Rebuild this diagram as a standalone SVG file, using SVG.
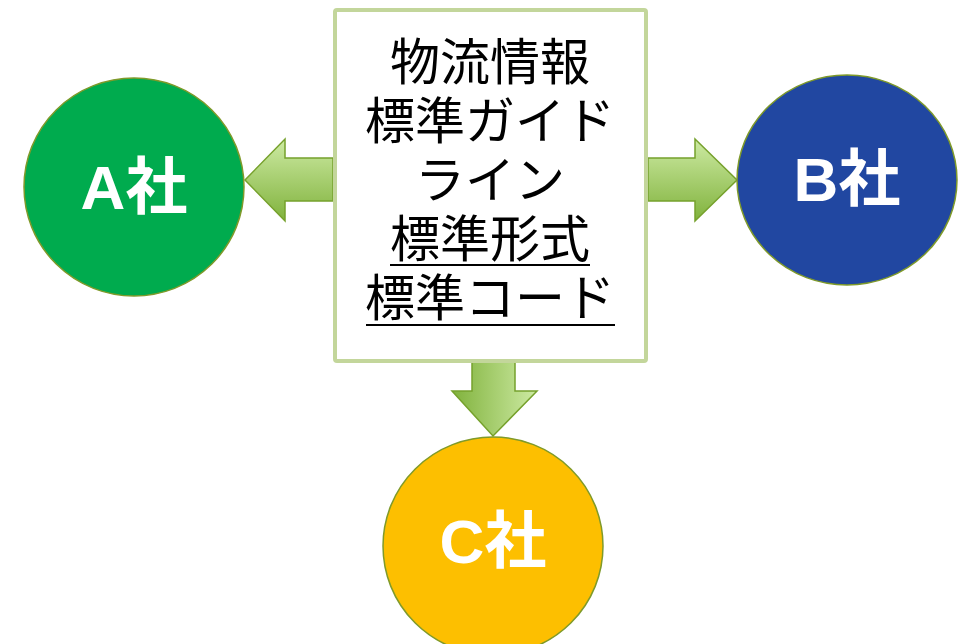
<svg xmlns="http://www.w3.org/2000/svg" width="963" height="644" viewBox="0 0 963 644">
<defs>
<linearGradient id="gv" x1="0" y1="0" x2="0" y2="1">
<stop offset="0" stop-color="#cdeaa3"/>
<stop offset="1" stop-color="#80b23c"/>
</linearGradient>
<linearGradient id="gh" x1="1" y1="0" x2="0" y2="0">
<stop offset="0" stop-color="#cdeaa3"/>
<stop offset="1" stop-color="#80b23c"/>
</linearGradient>
<style>
.arr{stroke:#76a12c;stroke-width:1.5;stroke-linejoin:miter}
.circ{stroke:#7f9a2a;stroke-width:1.5}
.lbl{font-family:"Liberation Sans","Noto Sans CJK JP",sans-serif;font-weight:bold;font-size:62px;fill:#fff;text-anchor:middle}
.main{font-family:"Noto Sans CJK JP",sans-serif;font-size:50px;fill:#000;text-anchor:middle}
</style>
</defs>
<rect width="963" height="644" fill="#fff"/>
<g id="connectors">
<path class="arr" fill="url(#gv)" d="M333,158 L285,158 L285,139 L245,180 L285,221 L285,201 L333,201 Z"/>
<path class="arr" fill="url(#gv)" d="M648,158 L695,158 L695,139 L737,180 L695,221 L695,201 L648,201 Z"/>
<path class="arr" fill="url(#gh)" d="M472,362 L472,391 L452,391 L493,436 L537,391 L515,391 L515,362 Z"/>
</g>
<g id="center">
<rect x="335" y="10" width="311" height="351" fill="#fff" stroke="#c3d69b" stroke-width="4" rx="2"/>
<text class="main" x="490" y="80">物流情報</text>
<text class="main" x="490" y="139">標準ガイド</text>
<text class="main" x="490" y="198">ライン</text>
<text class="main" x="490" y="257">標準形式</text>
<text class="main" x="490" y="316">標準コード</text>
<line x1="390" y1="265" x2="590" y2="265" stroke="#000" stroke-width="2"/>
<line x1="366" y1="325" x2="615" y2="325" stroke="#000" stroke-width="2"/>
</g>
<g id="nodeA">
<ellipse class="circ" cx="134" cy="187" rx="110" ry="109" fill="#00ab4e"/>
<text class="lbl" x="134" y="209">A社</text>
</g>
<g id="nodeB">
<ellipse class="circ" cx="847" cy="180" rx="110" ry="105" fill="#2147a1"/>
<text class="lbl" x="847" y="201">B社</text>
</g>
<g id="nodeC">
<ellipse class="circ" cx="493" cy="546" rx="110" ry="109" fill="#fdbf00"/>
<text class="lbl" x="493" y="563">C社</text>
</g>
</svg>
